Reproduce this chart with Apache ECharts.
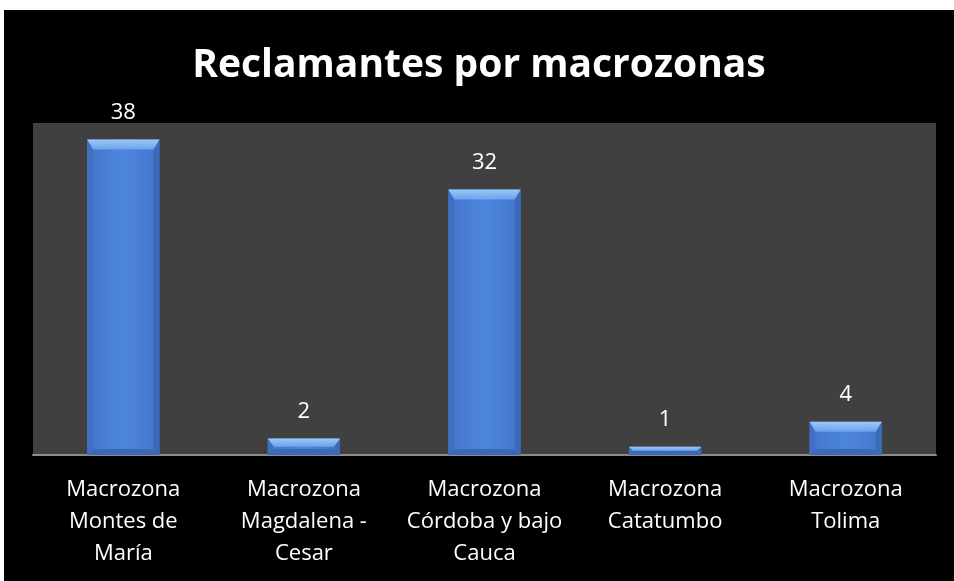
<!DOCTYPE html>
<html><head><meta charset="utf-8">
<script src="https://cdn.jsdelivr.net/npm/echarts@6/dist/echarts.min.js"></script>
<style>
html,body{margin:0;padding:0;background:#fff;width:954px;height:581px;overflow:hidden}
#c{position:absolute;left:4px;top:10px;width:950px;height:571px;background:#000}
</style></head><body>
<div id="c"></div>
<script>
const categories = ["Macrozona\nMontes de\nMaría","Macrozona\nMagdalena -\nCesar","Macrozona\nCórdoba y bajo\nCauca","Macrozona\nCatatumbo","Macrozona\nTolima"];
const values = [38, 2, 32, 1, 4];
const titleText = "Reclamantes por macrozonas";

function renderBar(params, api) {
  const idx = api.value(0), v = api.value(1);
  const top = api.coord([idx, v]);
  const bot = api.coord([idx, 0]);
  const w = api.size([1, 0])[0] * 0.4;
  const x = top[0] - w / 2, y = top[1], h = bot[1] - top[1];
  const b = Math.min(10, h / 2), s = Math.min(6, h / 2);
  const grad = (c1, c2, c3) => ({type:'linear',x:0,y:0,x2:1,y2:0,colorStops:[{offset:0,color:c1},{offset:0.5,color:c2},{offset:1,color:c3}]});
  return {type:'group', children:[
    {type:'rect', shape:{x:x, y:y, width:w, height:h}, style:{fill:grad('#4377cc','#4d84dc','#4377cc')}},
    {type:'polygon', shape:{points:[[x,y],[x+s,y+b],[x+s,y+h-s],[x,y+h]]}, style:{fill:'#3f70c2'}},
    {type:'polygon', shape:{points:[[x+w,y],[x+w-s,y+b],[x+w-s,y+h-s],[x+w,y+h]]}, style:{fill:'#3a6ab8'}},
    {type:'polygon', shape:{points:[[x,y+h],[x+s,y+h-s],[x+w-s,y+h-s],[x+w,y+h]]}, style:{fill:'#3b6ab6'}},
    {type:'polygon', shape:{points:[[x,y],[x+w,y],[x+w-s,y+b],[x+s,y+b]]},
      style:{fill:{type:'linear',x:0,y:0,x2:0,y2:1,colorStops:[{offset:0,color:'#9cc8f7'},{offset:1,color:'#6ba2ea'}]}}},
    {type:'text', x:top[0], y:y - 16, style:{text:String(v), fill:'#fff', font:'22px "Open Sans"', textAlign:'center', textVerticalAlign:'bottom'}}
  ]};
}

const chart = echarts.init(document.getElementById('c'), null, {renderer:'canvas'});
chart.setOption({
  backgroundColor:'#000',
  animation:false,
  title:{text:titleText,left:'center',top:31,textStyle:{color:'#fff',fontFamily:'Open Sans',fontWeight:'bold',fontSize:39}},
  grid:{left:29,right:18,top:113,bottom:126,show:true,backgroundColor:'#404040',borderWidth:0},
  xAxis:{type:'category',data:categories,
    axisLine:{lineStyle:{color:'#8c8c8c',width:2}},axisTick:{show:false},
    axisLabel:{color:'#fff',fontFamily:'Open Sans',fontSize:22,lineHeight:32,margin:19,interval:0}},
  yAxis:{type:'value',min:0,max:40,show:false,splitLine:{show:false}},
  series:[{type:'custom',renderItem:renderBar,data:values.map((v,i)=>[i,v]),encode:{x:0,y:1},z:1}]
});
</script></body></html>
